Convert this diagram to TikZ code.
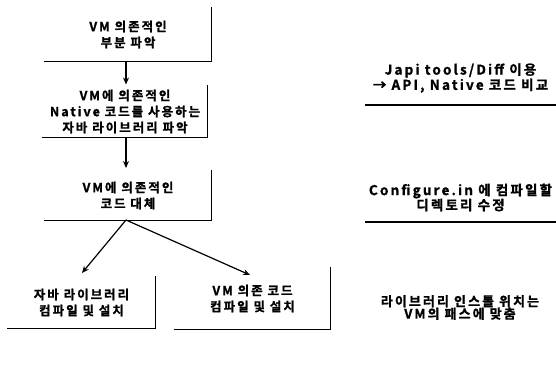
\documentclass[tikz,border=0pt]{standalone}
\usepackage{fontspec}
\setmainfont{Noto Sans CJK KR}[BoldFont={Noto Sans CJK KR Bold},BoldFeatures={FakeBold=1.2},LetterSpace=16]
\usetikzlibrary{arrows.meta}
\tikzset{
  txt/.style={font=\fontsize{12.5}{16}\selectfont\bfseries, align=center, inner sep=0pt},
  edge/.style={line width=1.1pt, line cap=rect},
  arr/.style={line width=1.2pt, -{Stealth[length=7pt,width=6pt]}},
  uline/.style={line width=1.4pt}
}
\begin{document}
\begin{tikzpicture}[x=1pt,y=-1pt]
\useasboundingbox (0,0) rectangle (556,379);
% boxes
\node[txt, minimum width=166pt, minimum height=53pt] (b1) at (128,34.5) {VM 의존적인\\부분 파악};
\node[txt, minimum width=164pt, minimum height=52pt] (b2) at (125,111.5) {VM에 의존적인\\Native 코드를 사용하는\\자바 라이브러리 파악};
\node[txt, minimum width=166pt, minimum height=50pt] (b3) at (128,195.5) {VM에 의존적인\\코드 대체};
\node[txt, minimum width=147pt, minimum height=51pt] (b4) at (81.5,302.5) {자바 라이브러리\\컴파일 및 설치};
\node[txt, minimum width=155pt, minimum height=61pt] (b5) at (252.5,298.5) {VM 의존 코드\\컴파일 및 설치};
\foreach \b in {b1,b2,b3,b4,b5}
  \draw[edge] (\b.south west) -- (\b.south east) -- (\b.north east);
% arrows
\coordinate (a1) at (126,61);
\coordinate (a2) at (126,137);
\coordinate (a3) at (126,220);
\coordinate (e1) at (126,84.5);
\coordinate (e2) at (126,168);
\draw[arr] (a1) -- (e1);
\draw[arr] (a2) -- (e2);
\coordinate (t4) at (82,273);
\coordinate (t5) at (250,275);
\draw[arr] (a3) -- (t4);
\draw[arr] (a3) -- (t5);
% right side notes
\node[txt, font=\fontsize{13.5}{13.5}\selectfont\bfseries, minimum width=191pt, minimum height=54pt] (n1) at (460.5,78) {Japi tools/Diff 이용\\→ API, Native 코드 비교};
\node[txt, font=\fontsize{13.5}{15}\selectfont\bfseries, minimum width=191pt, minimum height=49pt] (n2) at (460.5,197.5) {Configure.in 에 컴파일할\\디렉토리 수정};
\node[txt, font=\fontsize{13}{12.5}\selectfont\bfseries] (n3) at (460,307.5) {라이브러리 인스톨 위치는\\VM의 패스에 맞춤};
\draw[uline] (n1.south west) -- (n1.south east);
\draw[uline] (n2.south west) -- (n2.south east);
\end{tikzpicture}
\end{document}
